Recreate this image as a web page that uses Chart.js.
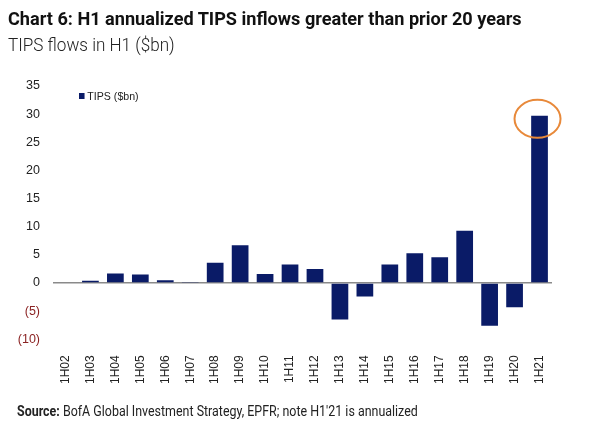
<!DOCTYPE html>
<html>
<head>
<meta charset="utf-8">
<script src="https://cdn.jsdelivr.net/npm/chart.js@4"></script>
<style>
  body { margin: 0; background: #fff; width: 590px; height: 433px; overflow: hidden; position: relative; }
  #myChart { position: absolute; left: 0; top: 0; }
  .txt { position: absolute; white-space: nowrap; color: #111; font-family: "Roboto", "Liberation Sans", sans-serif; transform-origin: 0 0; }
  #title { left: 8px; top: 7px; font-size: 19px; font-weight: bold; }
  #subtitle { left: 8px; top: 34px; font-size: 18px; font-weight: 300; color: #222; }
  #source { left: 17px; top: 403px; font-size: 14px; color: #222; }
  #legend { left: 79px; top: 90px; font-size: 11.5px; color: #222; font-family: "Liberation Sans", sans-serif; }
  #legend span { display: inline-block; width: 6px; height: 6px; background: #0a1b67; margin-right: 3px; vertical-align: 1px; }
</style>
</head>
<body>
<canvas id="myChart" width="590" height="433"></canvas>
<div class="txt" id="title">Chart 6: H1 annualized TIPS inflows greater than prior 20 years</div>
<div class="txt" id="subtitle">TIPS flows in H1 ($bn)</div>
<div class="txt" id="legend"><span></span>TIPS ($bn)</div>
<div class="txt" id="source"><b>Source:</b> BofA Global Investment Strategy, EPFR; note H1'21 is annualized</div>
<script>
// Data
const halves = ["1H02", "1H03", "1H04", "1H05", "1H06", "1H07", "1H08", "1H09", "1H10", "1H11",
                "1H12", "1H13", "1H14", "1H15", "1H16", "1H17", "1H18", "1H19", "1H20", "1H21"];
const tipsFlows = [0, 0.4, 1.7, 1.5, 0.5, 0.2, 3.6, 6.7, 1.6, 3.3,
                   2.5, -6.5, -2.4, 3.3, 5.3, 4.6, 9.3, -7.6, -4.3, 29.7];
const yTicks = [-10, -5, 0, 5, 10, 15, 20, 25, 30, 35];

// squeeze the condensed-looking texts to the widths seen in the picture
function fitWidth(id, w) {
	const el = document.getElementById(id);
	el.style.transform = 'scaleX(' + (w / el.offsetWidth) + ')';
}
fitWidth('title', 514);
fitWidth('subtitle', 167);
fitWidth('source', 401);
fitWidth('legend', 60);

// orange ring round the last bar
const ringPlugin = {
	id: 'ring',
	afterDatasetsDraw(chart) {
		const bar = chart.getDatasetMeta(0).data[halves.length - 1];
		const c = chart.ctx;
		c.save();
		c.strokeStyle = '#e8893a';
		c.lineWidth = 2;
		c.beginPath();
		c.ellipse(bar.x - 2, bar.y + 3, 23, 19, 0, 0, Math.PI * 2);
		c.stroke();
		c.restore();
	}
};

let ctx = document.getElementById("myChart");

const config = {
	type: 'bar',
	data: {
		labels: halves,
		datasets: [{
			label: 'TIPS ($bn)',
			data: tipsFlows,
			backgroundColor: '#0a1b67',
			barPercentage: 0.67,
			categoryPercentage: 1
		}]
	},
	options: {
		responsive: false,
		animation: false,
		devicePixelRatio: 1,
		layout: { padding: { top: 86, right: 38, bottom: 41, left: 0 } },
		plugins: {
			legend: { display: false },
			tooltip: { enabled: false }
		},
		scales: {
			x: {
				grid: { display: false },
				border: { display: false },
				ticks: {
					minRotation: 90,
					maxRotation: 90,
					padding: 8,
					color: '#222',
					font: { family: 'Liberation Sans, Arial', size: 12 }
				}
			},
			y: {
				min: -10,
				max: 35,
				afterFit(scale) { scale.width = 53; },
				afterBuildTicks(scale) { scale.ticks = yTicks.map(v => ({ value: v })); },
				border: { display: false },
				grid: {
					drawTicks: false,
					lineWidth: 1.5,
					color: c => c.tick && c.tick.value === 0 ? '#8a8a8a' : 'rgba(0,0,0,0)'
				},
				ticks: {
					padding: 13,
					color: c => c.tick.value < 0 ? '#8b2323' : '#222',
					font: { family: 'Liberation Sans, Arial', size: 12.5 },
					callback: v => v < 0 ? '(' + (-v) + ')' : v
				}
			}
		}
	},
	plugins: [ringPlugin]
};

let myChart = new Chart(ctx, config);
</script>
</body>
</html>
